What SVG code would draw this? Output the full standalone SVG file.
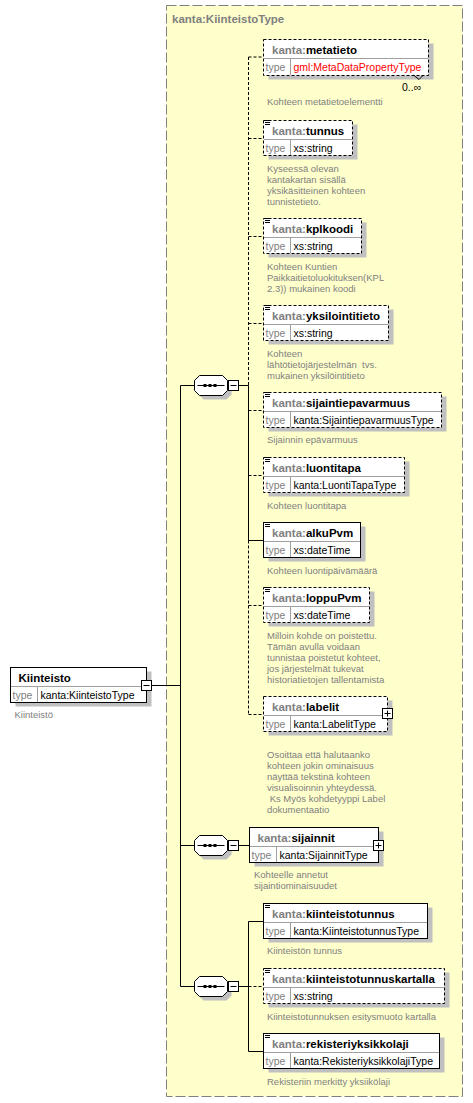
<svg xmlns="http://www.w3.org/2000/svg" xmlns:xlink="http://www.w3.org/1999/xlink" width="473" height="1103" viewBox="0 0 473 1103">
<style>
.bg{fill:#FFFFCC;stroke:#808080;stroke-dasharray:10,3}
.box{fill:#fff;stroke:#000;stroke-width:1}
.dash{stroke-dasharray:3,2}
.sh{fill:#C0C0C0}
.dv{stroke:#A0A0A0;stroke-width:1}
.ic{stroke:#000;stroke-width:1}
.t{font-family:"Liberation Sans",Arial,sans-serif;font-size:11.5px;font-weight:bold;fill:#000}
.ns{fill:#808080}
.ty{font-family:"Liberation Sans",Arial,sans-serif;font-size:10.5px;fill:#000}
.tg{fill:#808080}
.red{fill:#FF0000}
.d{font-family:"Liberation Sans",Arial,sans-serif;font-size:9.5px;fill:#808080}
.ln{stroke:#000;stroke-width:1;fill:none}
.ld{stroke:#000;stroke-width:1;fill:none;stroke-dasharray:3,2}
.btn{fill:#fff;stroke:#000;stroke-width:1}
</style>
<defs>
<g id="seq">
<path class="sh" d="M9,4 H32 L37,9 V19 L32,24 H9 L4,19 V9 Z"/>
<path fill="#fff" stroke="#000" d="M5,0 H28 L33,5 V15 L28,20 H5 L0,15 V5 Z"/>
<path class="ln" d="M3,10 H30"/>
<rect x="9" y="8.5" width="3" height="3" fill="#000"/>
<rect x="14" y="8.5" width="3" height="3" fill="#000"/>
<rect x="19" y="8.5" width="3" height="3" fill="#000"/>
<rect class="btn" x="34" y="5" width="10" height="10"/>
<path class="ln" d="M36,10 H42"/>
</g>
</defs>

<rect class="bg" x="166.5" y="5.5" width="296" height="1091"/>
<text class="t ns" x="172" y="23">kanta:KiinteistoType</text>

<g id="connectors">
<path class="ld" d="M248.5,57 V385.5"/>
<path class="ln" d="M248.5,385.5 V540.5"/>
<path class="ld" d="M248.5,540.5 V714.5"/>
<path class="ld" d="M248.5,57 H263.5 M248.5,138.5 H263.5 M248.5,236.5 H263.5 M248.5,323.5 H263.5 M248.5,410.5 H263.5 M248.5,475.5 H263.5 M248.5,605.5 H263.5 M248.5,714.5 H263.5"/>
<path class="ln" d="M248.5,540.5 H263.5"/>
<path class="ln" d="M238.5,385.5 H248.5"/>
<path class="ln" d="M151.5,685.5 H180.5 M180.5,385.5 V986.5 M180.5,385.5 H194.5 M180.5,845.5 H194.5 M180.5,986.5 H194.5"/>
<path class="ln" d="M238.5,845.5 H249.5"/>
<path class="ln" d="M238.5,986.5 H248.5 M248.5,921.5 V1051.5 M248.5,921.5 H263.5 M248.5,1051.5 H263.5"/>
<path class="ld" d="M248.5,986.5 H263.5"/>
</g>

<g id="root-Kiinteisto">
<rect class="sh" x="15.5" y="671.5" width="136" height="35"/>
<rect class="box" x="10.5" y="667.5" width="136" height="35"/>
<line class="dv" x1="11" y1="686.5" x2="146" y2="686.5"/>
<line class="dv" x1="37.5" y1="687" x2="37.5" y2="702"/>
<text class="t" x="18.5" y="681.5">Kiinteisto</text>
<text class="ty tg" x="12.5" y="698.5">type</text>
<text class="ty" x="40.5" y="698.5">kanta:KiinteistoType</text>
<rect class="btn" x="141.5" y="680.5" width="10" height="10"/>
<path class="ln" d="M143.5,685.5 H149.5"/>
<text class="d" x="14.5" y="717.5">Kiinteistö</text>
</g>

<g id="seq1" transform="translate(194.5,375.5)"><use xlink:href="#seq" href="#seq"/></g>
<g id="seq2" transform="translate(194.5,835.5)"><use xlink:href="#seq" href="#seq"/></g>
<g id="seq3" transform="translate(194.5,976.5)"><use xlink:href="#seq" href="#seq"/></g>

<g id="n-metatieto">
<rect class="sh" x="268.5" y="43.5" width="165" height="36"/>
<rect class="box dash" x="263.5" y="39.5" width="165" height="36"/>
<line class="dv" x1="264" y1="58.5" x2="428" y2="58.5"/>
<line class="dv" x1="290.5" y1="59" x2="290.5" y2="75"/>
<text class="t" x="272" y="53.5"><tspan class="ns">kanta:</tspan>metatieto</text>
<text class="ty tg" x="265.5" y="71">type</text>
<text class="ty red" x="293.5" y="71">gml:MetaDataPropertyType</text>
<polyline class="ln" points="413.5,75 419,79.5 423,75.5"/>
<text class="ty" x="402" y="91">0..∞</text>
<text class="d" x="267" y="105">Kohteen metatietoelementti</text>
</g>

<g id="n-tunnus">
<rect class="sh" x="268.5" y="124.5" width="89" height="35"/>
<rect class="box dash" x="263.5" y="120.5" width="89" height="35"/>
<line class="dv" x1="264" y1="139.5" x2="352" y2="139.5"/>
<line class="dv" x1="290.5" y1="140" x2="290.5" y2="155"/>
<path class="ic" d="M265,120.5 h5 M265,122.5 h5 M265,124.5 h5"/>
<text class="t" x="272" y="134.5"><tspan class="ns">kanta:</tspan>tunnus</text>
<text class="ty tg" x="265.5" y="152">type</text>
<text class="ty" x="293.5" y="152">xs:string</text>
<text class="d" x="267" y="171.5">Kyseessä olevan</text>
<text class="d" x="267" y="182.5">kantakartan sisällä</text>
<text class="d" x="267" y="193.5">yksikäsitteinen kohteen</text>
<text class="d" x="267" y="204.5">tunnistetieto.</text>
</g>

<g id="n-kplkoodi">
<rect class="sh" x="268.5" y="222.5" width="98" height="35"/>
<rect class="box dash" x="263.5" y="218.5" width="98" height="35"/>
<line class="dv" x1="264" y1="237.5" x2="361" y2="237.5"/>
<line class="dv" x1="290.5" y1="238" x2="290.5" y2="253"/>
<path class="ic" d="M265,218.5 h5 M265,220.5 h5 M265,222.5 h5"/>
<text class="t" x="272" y="232.5"><tspan class="ns">kanta:</tspan>kplkoodi</text>
<text class="ty tg" x="265.5" y="250">type</text>
<text class="ty" x="293.5" y="250">xs:string</text>
<text class="d" x="267" y="269.5">Kohteen Kuntien</text>
<text class="d" x="267" y="280.5">Paikkaitietoluokituksen(KPL</text>
<text class="d" x="267" y="291.5">2.3)) mukainen koodi</text>
</g>

<g id="n-yksilointitieto">
<rect class="sh" x="268.5" y="309.5" width="125" height="35"/>
<rect class="box dash" x="263.5" y="305.5" width="125" height="35"/>
<line class="dv" x1="264" y1="324.5" x2="388" y2="324.5"/>
<line class="dv" x1="290.5" y1="325" x2="290.5" y2="340"/>
<path class="ic" d="M265,305.5 h5 M265,307.5 h5 M265,309.5 h5"/>
<text class="t" x="272" y="319.5"><tspan class="ns">kanta:</tspan>yksilointitieto</text>
<text class="ty tg" x="265.5" y="337">type</text>
<text class="ty" x="293.5" y="337">xs:string</text>
<text class="d" x="267" y="356.5">Kohteen</text>
<text class="d" x="267" y="367.5" xml:space="preserve">lähtötietojärjestelmän  tvs.</text>
<text class="d" x="267" y="378.5">mukainen yksilöintitieto</text>
</g>

<g id="n-sijaintiepavarmuus">
<rect class="sh" x="268.5" y="396.5" width="178" height="35"/>
<rect class="box dash" x="263.5" y="392.5" width="178" height="35"/>
<line class="dv" x1="264" y1="411.5" x2="441" y2="411.5"/>
<line class="dv" x1="290.5" y1="412" x2="290.5" y2="427"/>
<path class="ic" d="M265,392.5 h5 M265,394.5 h5 M265,396.5 h5"/>
<text class="t" x="272" y="406.5"><tspan class="ns">kanta:</tspan>sijaintiepavarmuus</text>
<text class="ty tg" x="265.5" y="424">type</text>
<text class="ty" x="293.5" y="424">kanta:SijaintiepavarmuusType</text>
<text class="d" x="267" y="443">Sijainnin epävarmuus</text>
</g>

<g id="n-luontitapa">
<rect class="sh" x="268.5" y="461.5" width="141" height="35"/>
<rect class="box dash" x="263.5" y="457.5" width="141" height="35"/>
<line class="dv" x1="264" y1="476.5" x2="404" y2="476.5"/>
<line class="dv" x1="290.5" y1="477" x2="290.5" y2="492"/>
<path class="ic" d="M265,457.5 h5 M265,459.5 h5 M265,461.5 h5"/>
<text class="t" x="272" y="471.5"><tspan class="ns">kanta:</tspan>luontitapa</text>
<text class="ty tg" x="265.5" y="489">type</text>
<text class="ty" x="293.5" y="489">kanta:LuontiTapaType</text>
<text class="d" x="267" y="508.5">Kohteen luontitapa</text>
</g>

<g id="n-alkuPvm">
<rect class="sh" x="268.5" y="526.5" width="97" height="35"/>
<rect class="box" x="263.5" y="522.5" width="97" height="35"/>
<line class="dv" x1="264" y1="541.5" x2="360" y2="541.5"/>
<line class="dv" x1="290.5" y1="542" x2="290.5" y2="557"/>
<path class="ic" d="M265,522.5 h5 M265,524.5 h5 M265,526.5 h5"/>
<text class="t" x="272" y="536.5"><tspan class="ns">kanta:</tspan>alkuPvm</text>
<text class="ty tg" x="265.5" y="554">type</text>
<text class="ty" x="293.5" y="554">xs:dateTime</text>
<text class="d" x="267" y="573.5">Kohteen luontipäivämäärä</text>
</g>

<g id="n-loppuPvm">
<rect class="sh" x="268.5" y="591.5" width="106" height="35"/>
<rect class="box dash" x="263.5" y="587.5" width="106" height="35"/>
<line class="dv" x1="264" y1="606.5" x2="369" y2="606.5"/>
<line class="dv" x1="290.5" y1="607" x2="290.5" y2="622"/>
<path class="ic" d="M265,587.5 h5 M265,589.5 h5 M265,591.5 h5"/>
<text class="t" x="272" y="601.5"><tspan class="ns">kanta:</tspan>loppuPvm</text>
<text class="ty tg" x="265.5" y="619">type</text>
<text class="ty" x="293.5" y="619">xs:dateTime</text>
<text class="d" x="267" y="638.5">Milloin kohde on poistettu.</text>
<text class="d" x="267" y="649.5">Tämän avulla voidaan</text>
<text class="d" x="267" y="660.5">tunnistaa poistetut kohteet,</text>
<text class="d" x="267" y="671.5">jos järjestelmät tukevat</text>
<text class="d" x="267" y="682.5">historiatietojen tallentamista</text>
</g>

<g id="n-labelit">
<rect class="sh" x="268.5" y="700.5" width="124" height="35"/>
<rect class="box dash" x="263.5" y="696.5" width="124" height="35"/>
<line class="dv" x1="264" y1="715.5" x2="387" y2="715.5"/>
<line class="dv" x1="290.5" y1="716" x2="290.5" y2="731"/>
<text class="t" x="272" y="710.5"><tspan class="ns">kanta:</tspan>labelit</text>
<text class="ty tg" x="265.5" y="728">type</text>
<text class="ty" x="293.5" y="728">kanta:LabelitType</text>
<rect class="btn" x="382.5" y="708.5" width="10" height="10"/>
<path class="ln" d="M384.5,713.5 H390.5 M387.5,710.5 V716.5"/>
<text class="d" x="267" y="757.5">Osoittaa että halutaanko</text>
<text class="d" x="267" y="768.5">kohteen jokin ominaisuus</text>
<text class="d" x="267" y="779.5">näyttää tekstinä kohteen</text>
<text class="d" x="267" y="790.5">visualisoinnin yhteydessä.</text>
<text class="d" x="267" y="801.5" xml:space="preserve"> Ks Myös kohdetyyppi Label</text>
<text class="d" x="267" y="812.5">dokumentaatio</text>
</g>

<g id="n-sijainnit">
<rect class="sh" x="254.5" y="831.5" width="129" height="35"/>
<rect class="box" x="249.5" y="827.5" width="129" height="35"/>
<line class="dv" x1="250" y1="846.5" x2="378" y2="846.5"/>
<line class="dv" x1="276.5" y1="847" x2="276.5" y2="862"/>
<text class="t" x="257.5" y="841.5"><tspan class="ns">kanta:</tspan>sijainnit</text>
<text class="ty tg" x="251.5" y="859">type</text>
<text class="ty" x="279.5" y="859">kanta:SijainnitType</text>
<rect class="btn" x="373.5" y="840.5" width="10" height="10"/>
<path class="ln" d="M375.5,845.5 H381.5 M378.5,842.5 V848.5"/>
<text class="d" x="254" y="878">Kohteelle annetut</text>
<text class="d" x="254" y="889">sijaintiominaisuudet</text>
</g>

<g id="n-kiinteistotunnus">
<rect class="sh" x="268.5" y="907.5" width="164" height="35"/>
<rect class="box" x="263.5" y="903.5" width="164" height="35"/>
<line class="dv" x1="264" y1="922.5" x2="427" y2="922.5"/>
<line class="dv" x1="290.5" y1="923" x2="290.5" y2="938"/>
<path class="ic" d="M265,903.5 h5 M265,905.5 h5 M265,907.5 h5"/>
<text class="t" x="272" y="917.5"><tspan class="ns">kanta:</tspan>kiinteistotunnus</text>
<text class="ty tg" x="265.5" y="935">type</text>
<text class="ty" x="293.5" y="935">kanta:KiinteistotunnusType</text>
<text class="d" x="267" y="954">Kiinteistön tunnus</text>
</g>

<g id="n-kiinteistotunnuskartalla">
<rect class="sh" x="268.5" y="972.5" width="181" height="35"/>
<rect class="box dash" x="263.5" y="968.5" width="181" height="35"/>
<line class="dv" x1="264" y1="987.5" x2="444" y2="987.5"/>
<line class="dv" x1="290.5" y1="988" x2="290.5" y2="1003"/>
<path class="ic" d="M265,968.5 h5 M265,970.5 h5 M265,972.5 h5"/>
<text class="t" x="272" y="982.5"><tspan class="ns">kanta:</tspan>kiinteistotunnuskartalla</text>
<text class="ty tg" x="265.5" y="1000">type</text>
<text class="ty" x="293.5" y="1000">xs:string</text>
<text class="d" x="267" y="1019.5">Kiinteistotunnuksen esitysmuoto kartalla</text>
</g>

<g id="n-rekisteriyksikkolaji">
<rect class="sh" x="268.5" y="1037.5" width="176" height="35"/>
<rect class="box" x="263.5" y="1033.5" width="176" height="35"/>
<line class="dv" x1="264" y1="1052.5" x2="439" y2="1052.5"/>
<line class="dv" x1="290.5" y1="1053" x2="290.5" y2="1068"/>
<path class="ic" d="M265,1033.5 h5 M265,1035.5 h5 M265,1037.5 h5"/>
<text class="t" x="272" y="1047.5"><tspan class="ns">kanta:</tspan>rekisteriyksikkolaji</text>
<text class="ty tg" x="265.5" y="1065">type</text>
<text class="ty" x="293.5" y="1065">kanta:RekisteriyksikkolajiType</text>
<text class="d" x="267" y="1084.5">Rekisteriin merkitty yksiikölaji</text>
</g>
</svg>
